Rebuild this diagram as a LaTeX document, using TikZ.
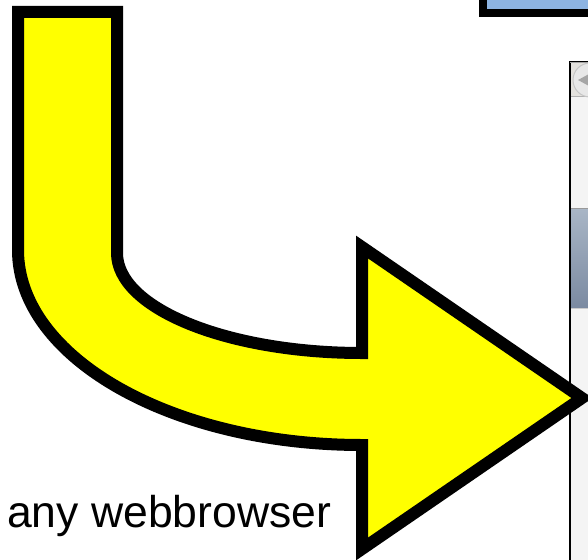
\documentclass[tikz,border=0pt]{standalone}
\usepackage{fontspec}
\setmainfont{Liberation Sans}
\definecolor{arrowyellow}{HTML}{FFFF00}
\definecolor{boxblue}{HTML}{8DB4E2}
\definecolor{pagegray}{HTML}{F4F4F4}
\definecolor{toolgray}{HTML}{E4E2DE}
\definecolor{bartop}{HTML}{A9B6C6}
\definecolor{barbot}{HTML}{7B8AA1}
\tikzset{
  bigarrow/.style={draw=black, line width=12pt, fill=arrowyellow, miter limit=20, line join=miter},
  bluebox/.style={draw=black, line width=8pt, fill=boxblue},
  window/.style={draw=black, line width=2pt, fill=pagegray},
  lbl/.style={inner sep=0pt, font=\fontsize{44.5}{50}\selectfont}
}
\begin{document}
\begin{tikzpicture}[x=1pt,y=-1pt]
\useasboundingbox (0,0) rectangle (588,559);
\fill[white] (0,0) rectangle (588,559);
\clip (0,0) rectangle (588,559);
% blue box at top right
\draw[bluebox] (483,13) rectangle (700,-100);
% browser window
\draw[window] (570,62) rectangle (700,700);
\fill[toolgray] (571,63) rectangle (700,97);
\draw[gray!60, line width=1pt] (571,97) -- (700,97);
\draw[gray!70, line width=0.8pt] (570,62.5) -- (700,62.5);
\draw[fill=gray!18, draw=gray!45, line width=1pt] (590,80) circle (17);
\fill[gray!70] (578,80) -- (600,68) -- (600,92) -- cycle;
\shade[top color=bartop, bottom color=barbot] (571,208) rectangle (700,308);
\draw[gray!80, line width=1pt] (571,208) -- (700,208);
\draw[gray!40, line width=1pt] (571,308.5) -- (700,308.5);
% yellow curved arrow
\draw[bigarrow] (18,12) -- (117,12) -- (117,253)
  .. controls (117,308.2) and (226.7,353) .. (362,353)
  -- (362,247) -- (582,398) -- (362,549) -- (362,445)
  .. controls (172,445) and (18,357.7) .. (18,250) -- cycle;
% label
\node[lbl, anchor=base west] (label) at (7,527) {any webbrowser};
\end{tikzpicture}
\end{document}
